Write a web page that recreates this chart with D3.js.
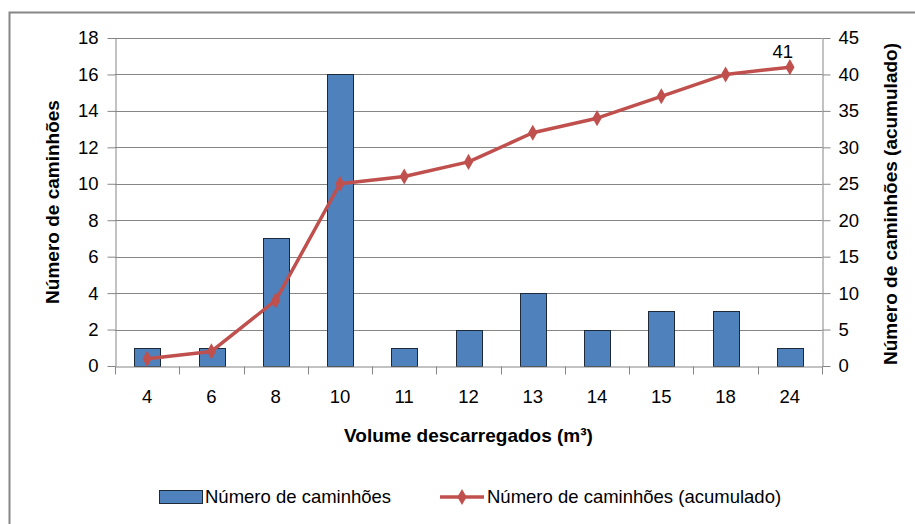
<!DOCTYPE html>
<html>
<head>
<meta charset="utf-8">
<script src="https://cdn.jsdelivr.net/npm/d3@7"></script>
<style>
  body { margin: 0; background: #fff; }
  text { font-family: "Liberation Sans", Arial, sans-serif; fill: #000; }
</style>
</head>
<body>
<div id="chart"></div>
<script>
// volumes (m3) and truck counts
const volumes = ["4", "6", "8", "10", "11", "12", "13", "14", "15", "18", "24"];
const trucks = [1, 1, 7, 16, 1, 2, 4, 2, 3, 3, 1];
const trucksCum = [1, 2, 9, 25, 26, 28, 32, 34, 37, 40, 41];
const leftTicks = [0, 2, 4, 6, 8, 10, 12, 14, 16, 18];
const rightTicks = [0, 5, 10, 15, 20, 25, 30, 35, 40, 45];

const width = 915, height = 524;
const plotL = 115, plotR = 822, plotT = 38, plotB = 366;
const fs = 18.5;

let svg = d3.select("#chart").append("svg")
    .attr("width", width)
    .attr("height", height);

// chart frame
svg.append("rect")
    .attr("x", 9.5).attr("y", 12.5)
    .attr("width", 920).attr("height", 530)
    .attr("fill", "#fff")
    .attr("stroke", "#868686")
    .attr("stroke-width", 2);

let x = d3.scaleBand().domain(volumes).range([plotL, plotR]);
let y = d3.scaleLinear().domain([0, 18]).range([plotB, plotT]);
let y2 = d3.scaleLinear().domain([0, 45]).range([plotB, plotT]);

// grid
svg.append("g")
    .selectAll("line")
    .data(leftTicks.slice(1))
    .enter().append("line")
    .attr("x1", plotL).attr("x2", plotR)
    .attr("y1", d => Math.round(y(d)) + 0.5)
    .attr("y2", d => Math.round(y(d)) + 0.5)
    .attr("stroke", "#868686");

let axisStyle = g => {
  g.selectAll(".domain").attr("stroke", "#868686");
  g.selectAll(".tick line").attr("stroke", "#868686");
  g.selectAll(".tick text")
    .attr("font-size", fs)
    .attr("fill", "#000");
};

svg.append("g")
    .attr("transform", `translate(${plotL + 0.5},0)`)
    .call(d3.axisLeft(y).tickValues(leftTicks).tickSize(8).tickSizeOuter(0).tickPadding(9))
    .call(axisStyle);

svg.append("g")
    .attr("transform", `translate(${plotR + 0.5},0)`)
    .call(d3.axisRight(y2).tickValues(rightTicks).tickSize(8).tickSizeOuter(0).tickPadding(8))
    .call(axisStyle);

// bars
svg.append("g")
    .selectAll("rect")
    .data(volumes)
    .enter().append("rect")
    .attr("x", (d) => Math.round(x(d) + x.bandwidth() * 0.3) + 0.5)
    .attr("y", (d, i) => Math.round(y(trucks[i])) + 0.5)
    .attr("width", Math.round(x.bandwidth() * 0.4))
    .attr("height", (d, i) => Math.round(plotB - y(trucks[i])))
    .attr("fill", "#4F81BD")
    .attr("stroke", "#1c2a3a")
    .attr("stroke-width", 1);

// x axis
let xAxis = svg.append("g")
    .attr("transform", `translate(0,${plotB + 0.5})`)
    .call(d3.axisBottom(x).tickSize(0).tickPadding(23))
    .call(axisStyle);
xAxis.selectAll(".tick line").remove();
xAxis.append("g")
    .selectAll("line")
    .data(volumes.concat(["end"]))
    .enter().append("line")
    .attr("x1", (d, i) => Math.round(plotL + i * x.step()) + 0.5)
    .attr("x2", (d, i) => Math.round(plotL + i * x.step()) + 0.5)
    .attr("y1", 0).attr("y2", 8)
    .attr("stroke", "#868686");

// cumulative line
let cx = d => x(d) + x.bandwidth() / 2;
let line = d3.line()
    .x((d, i) => cx(volumes[i]))
    .y(d => y2(d));

svg.append("path")
    .datum(trucksCum)
    .attr("d", line)
    .attr("fill", "none")
    .attr("stroke", "#C0504D")
    .attr("stroke-width", 3.5)
    .attr("stroke-linejoin", "round");

let diamond = d3.symbol().type(d3.symbolDiamond).size(75);
svg.append("g")
    .selectAll("path")
    .data(trucksCum)
    .enter().append("path")
    .attr("d", diamond)
    .attr("transform", (d, i) => `translate(${cx(volumes[i])},${y2(d)})`)
    .attr("fill", "#C0504D");

// data label on last point
svg.append("text")
    .attr("x", cx(volumes[volumes.length - 1]) - 7)
    .attr("y", y2(trucksCum[trucksCum.length - 1]) - 9)
    .attr("text-anchor", "middle")
    .attr("font-size", fs)
    .text(trucksCum[trucksCum.length - 1]);

// axis titles
svg.append("text")
    .attr("transform", `translate(59,${(plotT + plotB) / 2}) rotate(-90)`)
    .attr("text-anchor", "middle")
    .attr("font-size", 19)
    .attr("font-weight", "bold")
    .text("Número de caminhões");

svg.append("text")
    .attr("transform", `translate(897,${(plotT + plotB) / 2 + 2}) rotate(-90)`)
    .attr("text-anchor", "middle")
    .attr("font-size", 19)
    .attr("font-weight", "bold")
    .text("Número de caminhões (acumulado)");

svg.append("text")
    .attr("x", (plotL + plotR) / 2)
    .attr("y", 442)
    .attr("text-anchor", "middle")
    .attr("font-size", 19)
    .attr("font-weight", "bold")
    .text("Volume descarregados (m³)");

// legend
let legend = svg.append("g");
legend.append("rect")
    .attr("x", 159.5).attr("y", 490.5)
    .attr("width", 43).attr("height", 13)
    .attr("fill", "#4F81BD")
    .attr("stroke", "#1c2a3a");
legend.append("text")
    .attr("x", 205).attr("y", 503)
    .attr("font-size", fs)
    .text("Número de caminhões");

legend.append("line")
    .attr("x1", 440).attr("x2", 484)
    .attr("y1", 497).attr("y2", 497)
    .attr("stroke", "#C0504D")
    .attr("stroke-width", 3.5);
legend.append("path")
    .attr("d", diamond)
    .attr("transform", "translate(462,497)")
    .attr("fill", "#C0504D");
legend.append("text")
    .attr("x", 487).attr("y", 503)
    .attr("font-size", fs)
    .text("Número de caminhões (acumulado)");
</script>
</body>
</html>
